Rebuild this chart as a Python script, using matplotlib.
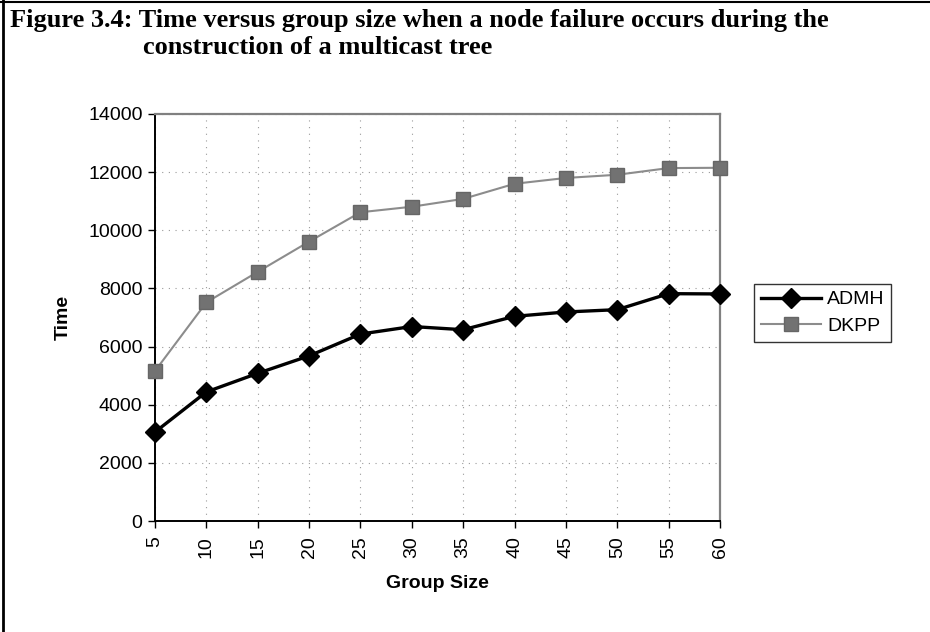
import matplotlib
matplotlib.use('Agg')
import matplotlib.pyplot as plt
from matplotlib.lines import Line2D

# Group sizes and measured times
group_size = [5, 10, 15, 20, 25, 30, 35, 40, 45, 50, 55, 60]
admh_time = [3060, 4440, 5080, 5680, 6430, 6690, 6580, 7040, 7190, 7270, 7820, 7810]
dkpp_time = [5160, 7520, 8570, 9610, 10620, 10810, 11080, 11600, 11800, 11910, 12140, 12150]
y_ticks = [0, 2000, 4000, 6000, 8000, 10000, 12000, 14000]

sans = 'Liberation Sans'
serif = 'Liberation Serif'

fig = plt.figure(figsize=(9.3, 6.32), dpi=100)
ax = fig.add_axes([155 / 930, 111 / 632, 565 / 930, 407 / 632])

ax.plot(group_size, dkpp_time, color='#8c8c8c', linewidth=1.5, marker='s',
        markersize=9.5, markerfacecolor='#727272', markeredgecolor='#666666',
        label='DKPP', zorder=3, clip_on=False)
ax.plot(group_size, admh_time, color='black', linewidth=2.4, marker='D',
        markersize=10, markerfacecolor='black', markeredgecolor='black',
        label='ADMH', zorder=4, clip_on=False)

ax.set_xlim(5, 60)
ax.set_ylim(0, 14000)
ax.set_xticks(group_size)
ax.set_xticklabels([str(g) for g in group_size], rotation=90,
                   fontsize=14, family=sans)
ax.set_yticks(y_ticks)
ax.set_yticklabels([str(t) for t in y_ticks], fontsize=14, family=sans)
ax.tick_params(axis='both', direction='out', length=5, width=1, color='black', pad=4)
ax.tick_params(axis='x', pad=6)

ax.grid(True, color='#9a9a9a', linestyle=(0, (1, 5)), linewidth=0.8)
ax.set_axisbelow(True)

for side in ('left', 'bottom'):
    ax.spines[side].set_color('black')
    ax.spines[side].set_linewidth(1.4)
for side in ('top', 'right'):
    ax.spines[side].set_color('#808080')
    ax.spines[side].set_linewidth(1.6)

ax.set_xlabel('Group Size', fontsize=14, fontweight='bold', family=sans, labelpad=12)
ax.set_ylabel('Time', fontsize=14, fontweight='bold', family=sans, labelpad=12)

# Legend outside the plot area, ADMH first
handles = [
    Line2D([], [], color='black', linewidth=2.4, marker='D', markersize=10,
           markerfacecolor='black'),
    Line2D([], [], color='#8c8c8c', linewidth=1.5, marker='s', markersize=9.5,
           markerfacecolor='#727272', markeredgecolor='#666666'),
]
leg = fig.legend(handles, ['ADMH', 'DKPP'], loc='upper left',
                 bbox_to_anchor=(754 / 930, 1 - 284 / 632),
                 prop={'family': sans, 'size': 14}, frameon=True, fancybox=False,
                 borderpad=0.35, handlelength=3.1, handletextpad=0.3,
                 labelspacing=0.45, borderaxespad=0)
leg.get_frame().set_edgecolor('black')
leg.get_frame().set_linewidth(1.0)

# Caption lines
fig.text(10 / 930, 1 - 21 / 632,
         'Figure 3.4: Time versus group size when a node failure occurs during the',
         fontsize=19, fontweight='bold', family=serif, va='center', ha='left')
fig.text(143 / 930, 1 - 48 / 632, 'construction of a multicast tree',
         fontsize=19, fontweight='bold', family=serif, va='center', ha='left')

# Page frame on the top and left edges
fig.add_artist(Line2D([0, 1], [1 - 1.5 / 632] * 2, color='black', linewidth=1.5,
                      transform=fig.transFigure))
fig.add_artist(Line2D([3 / 930] * 2, [0, 1], color='black', linewidth=2.0,
                      transform=fig.transFigure))

fig.savefig('out.png', dpi=100)
